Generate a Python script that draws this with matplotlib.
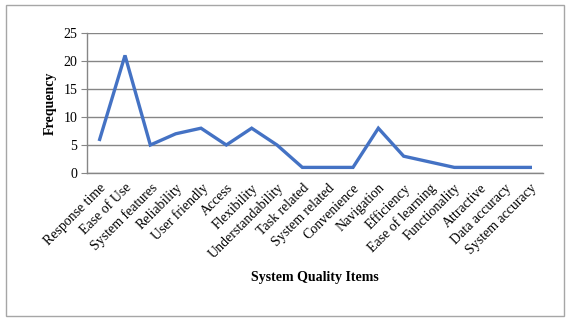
import matplotlib
matplotlib.use("Agg")
import matplotlib.pyplot as plt
from matplotlib.patches import Rectangle

categories = ["Response time", "Ease of Use", "System features", "Reliability",
              "User friendly", "Access", "Flexibility", "Understandability",
              "Task related", "System related", "Convenience", "Navigation",
              "Efficiency", "Ease of learning", "Functionality", "Attractive",
              "Data accuracy", "System accuracy"]
frequency = [6, 21, 5, 7, 8, 5, 8, 5, 1, 1, 1, 8, 3, 2, 1, 1, 1, 1]
yticks = [0, 5, 10, 15, 20, 25]

plt.rcParams['font.family'] = ['Liberation Serif', 'DejaVu Serif']

fig = plt.figure(figsize=(5.68, 3.2), dpi=100)
ax = fig.add_axes([87/568, 1-173/320, (543-87)/568, 140/320])

x = list(range(len(categories)))
ax.plot(x, frequency, color='#4472C4', linewidth=2.4, solid_joinstyle='miter')
ax.set_xlim(-0.5, len(categories)-0.5)
ax.set_ylim(0, 25)
ax.set_yticks(yticks)
ax.set_xticks(x)
ax.set_xticklabels(categories, rotation=45, ha='right', rotation_mode='anchor', fontsize=10)
ax.tick_params(axis='y', labelsize=10, length=4, color='#868686', pad=3)
ax.tick_params(axis='x', length=0, pad=6)
ax.yaxis.grid(True, color='#868686', linewidth=1)
ax.set_axisbelow(True)
for s in ['top', 'right']:
    ax.spines[s].set_visible(False)
for s in ['left', 'bottom']:
    ax.spines[s].set_color('#868686')
    ax.spines[s].set_linewidth(1)
ax.set_ylabel('Frequency', fontsize=10, fontweight='bold', labelpad=5)
fig.text(315/568, 1-278/320, 'System Quality Items', fontsize=10, fontweight='bold',
         ha='center', va='center')

fig.patches.append(Rectangle((6/568, 4/320), (564-6)/568, (315-4)/320,
                             transform=fig.transFigure, fill=False,
                             edgecolor='#A6A6A6', linewidth=1))

fig.savefig('out.png', dpi=100)
